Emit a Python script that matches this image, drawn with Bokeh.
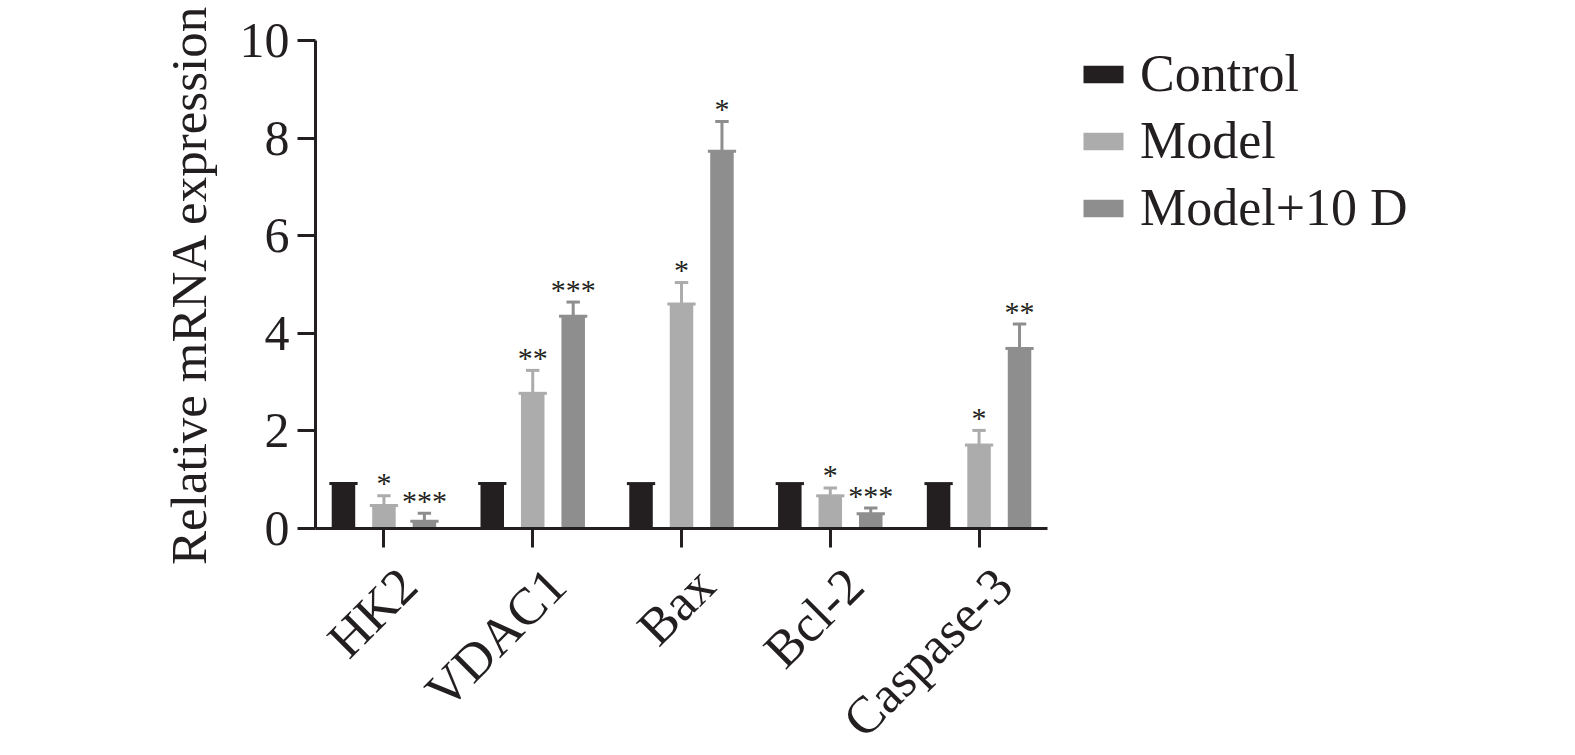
import math
from bokeh.plotting import figure
from bokeh.models import Range1d, FixedTicker, Legend, LegendItem, ColumnDataSource
from bokeh.core.properties import value
from bokeh.embed import file_html
from bokeh.resources import INLINE

# ---- data ----
genes = ["HK2", "VDAC1", "Bax", "Bcl-2", "Caspase-3"]
groups = ["Control", "Model", "Model+10 D"]
control = [0.92, 0.92, 0.92, 0.92, 0.92]
model = [0.47, 2.77, 4.60, 0.67, 1.71]
model_err = [0.20, 0.47, 0.44, 0.16, 0.30]
model10 = [0.15, 4.35, 7.73, 0.30, 3.69]
model10_err = [0.16, 0.29, 0.61, 0.12, 0.50]
model_sig = ["*", "**", "*", "*", "*"]
model10_sig = ["***", "***", "*", "***", "**"]
y_ticks = [0, 2, 4, 6, 8, 10]

colors = ["#231f20", "#acacac", "#8e8e8e"]
ink = "#231f20"
FONT = "Liberation Serif"

offsets = [-0.272, 0.0, 0.272]
bar_w = 0.158
top_w = 0.19
cap_half = 0.045

p = figure(
    frame_width=732, frame_height=488,
    x_range=Range1d(-0.46, 4.46), y_range=Range1d(0, 10),
    output_backend="svg", toolbar_location=None,
    min_border_left=315, min_border_top=40, min_border_bottom=215, min_border_right=40,
)
p.outline_line_color = None
p.xgrid.grid_line_color = None
p.ygrid.grid_line_color = None
p.background_fill_color = "white"

series = [(control, None, None), (model, model_err, model_sig), (model10, model10_err, model10_sig)]
renderers = []
for gi, (vals, errs, sigs) in enumerate(series):
    xs = [i + offsets[gi] for i in range(len(genes))]
    src = ColumnDataSource(dict(x=xs, top=vals,
                                x0=[x - top_w / 2 for x in xs], x1=[x + top_w / 2 for x in xs]))
    r = p.vbar(x="x", top="top", bottom=0, width=bar_w, source=src,
               fill_color=colors[gi], line_color=None)
    p.segment(x0="x0", x1="x1", y0="top", y1="top", source=src,
              line_color=colors[gi], line_width=3)
    renderers.append(r)
    if errs is not None:
        caps = [v + e for v, e in zip(vals, errs)]
        esrc = ColumnDataSource(dict(x=xs, top=vals, cap=caps, sig=sigs,
                                     c0=[x - cap_half for x in xs], c1=[x + cap_half for x in xs]))
        p.segment(x0="x", x1="x", y0="top", y1="cap", source=esrc,
                  line_color=colors[gi], line_width=3)
        p.segment(x0="c0", x1="c1", y0="cap", y1="cap", source=esrc,
                  line_color=colors[gi], line_width=3)
        p.text(x="x", y="cap", text="sig", source=esrc, text_align="center",
               text_baseline="alphabetic", y_offset=-13,
               text_font=value(FONT), text_font_size="30px", text_color=ink)

# axes
p.yaxis.ticker = FixedTicker(ticks=y_ticks)
p.xaxis.ticker = FixedTicker(ticks=list(range(len(genes))))
p.xaxis.major_label_overrides = {i: "\n" + g for i, g in enumerate(genes)}
p.xaxis.major_label_orientation = math.pi / 4
for ax in (p.xaxis, p.yaxis):
    ax.axis_line_color = ink
    ax.axis_line_width = 3
    ax.major_tick_line_color = ink
    ax.major_tick_line_width = 3
    ax.major_tick_in = 0
    ax.minor_tick_line_color = None
    ax.major_label_text_font = FONT
    ax.major_label_text_color = ink
p.yaxis.major_tick_out = 18
p.xaxis.major_tick_out = 19
p.yaxis.major_label_text_font_size = "50px"
p.yaxis.major_label_standoff = 8
p.xaxis.major_label_text_font_size = "52px"
p.xaxis.major_label_standoff = 5
p.yaxis.axis_label = "Relative mRNA expression"
p.yaxis.axis_label_text_font = FONT
p.yaxis.axis_label_text_font_size = "51px"
p.yaxis.axis_label_text_font_style = "normal"
p.yaxis.axis_label_text_color = ink
p.yaxis.axis_label_standoff = 20

legend = Legend(
    items=[LegendItem(label=g, renderers=[r]) for g, r in zip(groups, renderers)],
    location=(31, 291), orientation="vertical",
    label_text_font=FONT, label_text_font_size="52px", label_text_color=ink,
    glyph_width=50, glyph_height=22, label_standoff=12, spacing=8,
    padding=0, margin=0, border_line_alpha=0, background_fill_alpha=0,
)
p.add_layout(legend, "right")

open("out.html", "w").write(file_html(p, INLINE))
